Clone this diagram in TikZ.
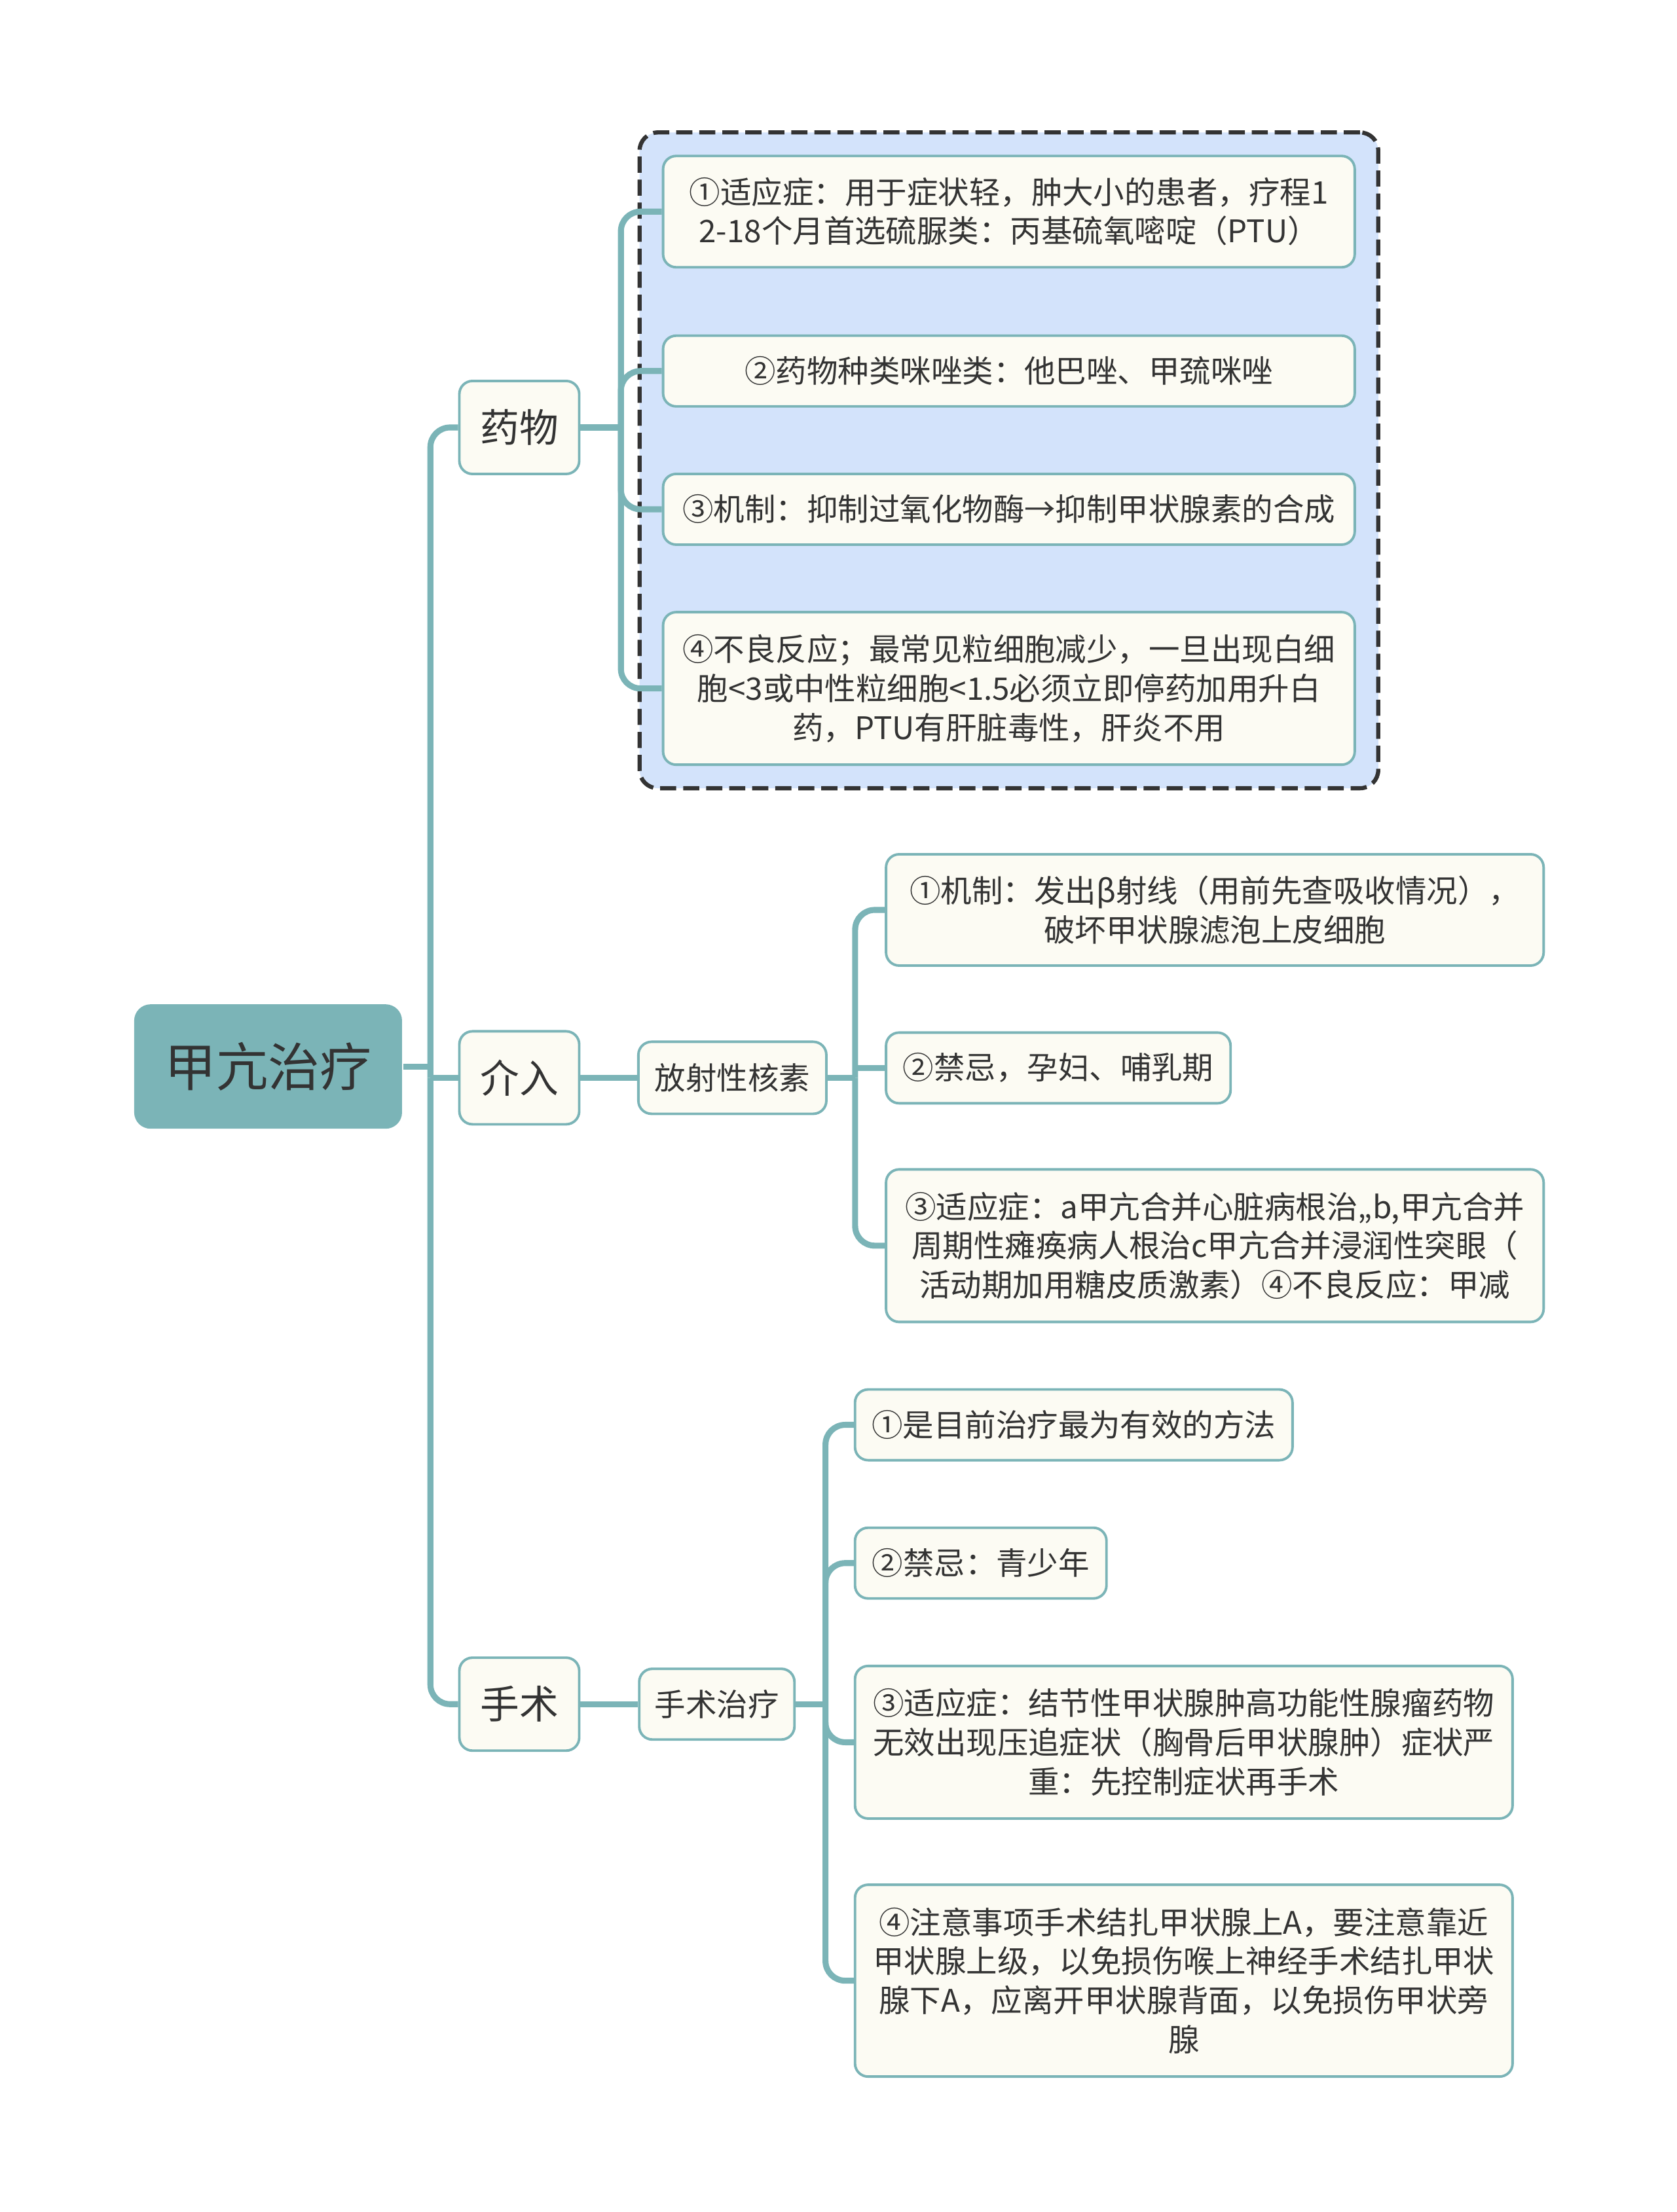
\documentclass[tikz,border=0pt]{standalone}
\usepackage{fontspec}
\setmainfont{Noto Sans CJK SC}
\usepackage{tikz}
\usetikzlibrary{positioning,fit,backgrounds}

\definecolor{teal1}{HTML}{7BB4B7}
\definecolor{cream}{HTML}{FCFBF3}
\definecolor{groupblue}{HTML}{D3E3FB}
\definecolor{ink}{HTML}{333333}

\begin{document}
\begin{tikzpicture}[
    x=0.02155cm, y=-0.02155cm,
    block/.style={
        draw=teal1,
        fill=cream,
        line width=1.1pt,
        rectangle,
        rounded corners=0.2cm,
        align=center,
        text=ink,
        inner sep=2pt,
        font=\fontsize{13.5}{17}\selectfont
    },
    leaf/.style={
        block,
        anchor=west
    },
    topic/.style={
        block,
        font=\fontsize{17}{20}\selectfont,
        minimum width=1.83cm,
        minimum height=1.42cm
    },
    link/.style={
        draw=teal1,
        line width=2.6pt,
        rounded corners=0.3cm
    }
]
\useasboundingbox (0,0) rectangle (1188,1568);

% Root
\node[block, fill=teal1, draw=none, rounded corners=0.25cm,
    font=\fontsize{22.5}{26}\selectfont,
    minimum width=4.09cm, minimum height=1.90cm] at (190,756) (root) {甲亢治疗};

% Main topics
\node[topic] at (368,303)  (yaowu)   {药物};
\node[topic] at (368,764)  (jieru)   {介入};
\node[topic] at (368,1208) (shoushu) {手术};

% Sub topics
\node[block, minimum width=2.87cm, minimum height=1.10cm] at (519,764)  (fangshe)   {放射性核素};
\node[block, minimum width=2.37cm, minimum height=1.08cm] at (508,1208) (shoushuzl) {手术治疗};

% Drug details
\node[leaf, minimum width=10.56cm, minimum height=1.70cm] at (469,150) (d1)
    {①适应症：用于症状轻，肿大小的患者，疗程1\\2-18个月首选硫脲类：丙基硫氧嘧啶（PTU）};
\node[leaf, minimum width=10.56cm, minimum height=1.08cm] at (469,263) (d2)
    {②药物种类咪唑类：他巴唑、甲巯咪唑};
\node[leaf, minimum width=10.56cm, minimum height=1.08cm] at (469,361) (d3)
    {③机制：抑制过氧化物酶→抑制甲状腺素的合成};
\node[leaf, minimum width=10.56cm, minimum height=2.33cm] at (469,488) (d4)
    {④不良反应；最常见粒细胞减少，一旦出现白细\\胞<3或中性粒细胞<1.5必须立即停药加用升白\\药，PTU有肝脏毒性，肝炎不用};

% Radionuclide details
\node[leaf, minimum width=10.04cm, minimum height=1.70cm] at (627,645) (j1)
    {①机制：发出β射线（用前先查吸收情况），\\破坏甲状腺滤泡上皮细胞};
\node[leaf, minimum width=5.26cm, minimum height=1.08cm] at (627,757) (j2)
    {②禁忌，孕妇、哺乳期};
\node[leaf, minimum width=10.04cm, minimum height=2.33cm] at (627,883) (j3)
    {③适应症：a甲亢合并心脏病根治,,b,甲亢合并\\周期性瘫痪病人根治c甲亢合并浸润性突眼（\\活动期加用糖皮质激素）④不良反应：甲减};

% Surgery details
\node[leaf, minimum width=6.68cm, minimum height=1.08cm] at (605,1010) (s1)
    {①是目前治疗最为有效的方法};
\node[leaf, minimum width=3.84cm, minimum height=1.08cm] at (605,1108) (s2)
    {②禁忌：青少年};
\node[leaf, minimum width=10.04cm, minimum height=2.33cm] at (605,1235) (s3)
    {③适应症：结节性甲状腺肿高功能性腺瘤药物\\无效出现压追症状（胸骨后甲状腺肿）症状严\\重：先控制症状再手术};
\node[leaf, minimum width=10.04cm, minimum height=2.93cm] at (605,1404) (s4)
    {④注意事项手术结扎甲状腺上A，要注意靠近\\甲状腺上级，以免损伤喉上神经手术结扎甲状\\腺下A，应离开甲状腺背面，以免损伤甲状旁\\腺};

% Dashed group round the drug details
\begin{scope}[on background layer]
\node[fit=(d1)(d4), inner sep=0.34cm, draw=ink, fill=groupblue,
    dash pattern=on 7pt off 3pt, line width=1.8pt, rounded corners=0.28cm] (drugbox) {};
\end{scope}

% Trunk
\coordinate (tk) at (305,764);
\draw[link] (root.east) -- (root.east -| tk);
\draw[link] (tk) |- (yaowu.west);
\draw[link] (tk) -- (jieru.west);
\draw[link] (tk) |- (shoushu.west);

% Drug branch
\coordinate (yw) at (440,303);
\draw[link] (yaowu.east) -- (yw);
\foreach \n in {d1,d2,d3,d4}
    \draw[link] (yw) |- (\n.west);

% Radionuclide branch
\draw[link] (jieru.east) -- (fangshe.west);
\coordinate (fs) at (606,764);
\draw[link] (fangshe.east) -- (fs);
\draw[link] (fs) |- (j1.west);
\draw[link] (fs |- j2.west) -- (j2.west);
\draw[link] (fs) |- (j3.west);

% Surgery branch
\draw[link] (shoushu.east) -- (shoushuzl.west);
\coordinate (ss) at (585,1208);
\draw[link] (shoushuzl.east) -- (ss);
\foreach \n in {s1,s2,s3,s4}
    \draw[link] (ss) |- (\n.west);

\end{tikzpicture}
\end{document}
